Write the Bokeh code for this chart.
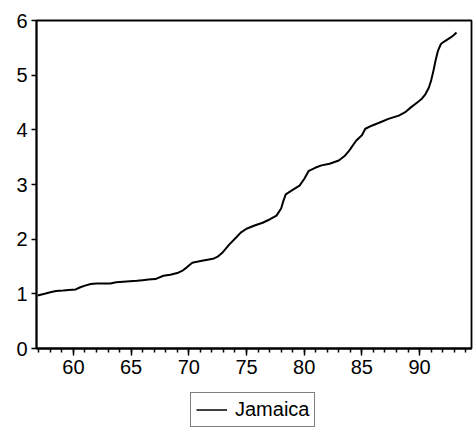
from bokeh.plotting import figure
from bokeh.layouts import column
from bokeh.models import Range1d, SingleIntervalTicker, FixedTicker, Legend, LegendItem
from bokeh.embed import file_html
from bokeh.resources import INLINE

# Jamaica series (x = two-digit year)
years = [56.9, 57.5, 58.0, 58.5, 59.1, 59.6, 60.2, 60.6, 61.0, 61.5, 62.0, 62.5,
         63.2, 63.7, 64.3, 64.9, 65.5, 66.0, 66.5, 67.1, 67.8, 68.4, 69.0, 69.5,
         69.8, 70.3, 70.8, 71.5, 72.1, 72.5, 72.9, 73.5, 74.1, 74.5, 75.0, 75.7,
         76.4, 77.0, 77.6, 78.0, 78.2, 78.4, 79.0, 79.6, 80.0, 80.4, 81.0, 81.5,
         82.2, 83.0, 83.5, 83.9, 84.5, 85.0, 85.3, 85.9, 86.5, 87.3, 88.2, 88.8,
         89.3, 89.8, 90.2, 90.5, 90.8, 91.0, 91.2, 91.4, 91.6, 91.85, 92.1, 92.4,
         92.7, 93.0, 93.2]
jamaica = [0.97, 1.00, 1.03, 1.05, 1.06, 1.07, 1.08, 1.12, 1.15, 1.18, 1.19, 1.19,
           1.19, 1.21, 1.22, 1.23, 1.24, 1.25, 1.26, 1.27, 1.33, 1.35, 1.38, 1.43,
           1.48, 1.57, 1.59, 1.62, 1.64, 1.68, 1.75, 1.90, 2.03, 2.12, 2.19, 2.25,
           2.30, 2.36, 2.43, 2.56, 2.70, 2.82, 2.90, 2.98, 3.10, 3.25, 3.31, 3.35,
           3.38, 3.44, 3.52, 3.62, 3.80, 3.90, 4.02, 4.08, 4.13, 4.20, 4.26, 4.33,
           4.42, 4.50, 4.57, 4.65, 4.77, 4.90, 5.08, 5.28, 5.45, 5.57, 5.61, 5.65,
           5.69, 5.74, 5.78]
x_ticks = [60, 65, 70, 75, 80, 85, 90]
y_ticks = [0, 1, 2, 3, 4, 5, 6]
series_name = "Jamaica"

FONT = "Liberation Sans"

p = figure(width=473, height=385, output_backend="svg", toolbar_location=None,
           x_range=Range1d(56.8, 94.5), y_range=Range1d(0, 6),
           min_border_left=36, min_border_right=2, min_border_top=20,
           min_border_bottom=37)

r = p.line(years, jamaica, line_color="black", line_width=2)

p.xgrid.visible = False
p.ygrid.visible = False
p.outline_line_color = "black"
p.outline_line_width = 1.8
p.background_fill_color = "white"
p.border_fill_color = "white"

p.xaxis.ticker = SingleIntervalTicker(interval=5, num_minor_ticks=5)
p.yaxis.ticker = FixedTicker(ticks=y_ticks)
for ax in (p.xaxis, p.yaxis):
    ax.axis_line_color = "black"
    ax.axis_line_width = 1.8
    ax.major_tick_line_color = "black"
    ax.major_tick_line_width = 1.5
    ax.minor_tick_line_color = "black"
    ax.minor_tick_line_width = 1.5
    ax.major_tick_in = 0
    ax.minor_tick_in = 0
    ax.major_label_text_font = FONT
    ax.major_label_text_font_size = "20px"
    ax.major_label_text_color = "black"

p.xaxis.major_tick_out = 7
p.xaxis.minor_tick_out = 4
p.xaxis.major_label_standoff = 4
p.yaxis.major_tick_out = 5
p.yaxis.minor_tick_line_color = None
p.yaxis.major_label_standoff = 4

# legend strip below the chart (its line lies outside this strip's ranges,
# so only the legend sample is seen)
q = figure(width=473, height=45, output_backend="svg", toolbar_location=None,
           x_range=Range1d(0, 1), y_range=Range1d(0, 1),
           min_border_left=0, min_border_right=0, min_border_top=0,
           min_border_bottom=0)
q.axis.visible = False
q.xgrid.visible = False
q.ygrid.visible = False
q.outline_line_color = None
q.background_fill_color = "white"
q.border_fill_color = "white"
r2 = q.line(years, jamaica, line_color="black", line_width=1.5)

legend = Legend(items=[LegendItem(label=series_name, renderers=[r2])],
                location=(154, 3), orientation="horizontal",
                label_text_font=FONT, label_text_font_size="20px",
                label_text_color="black", label_standoff=8,
                glyph_width=31, glyph_height=19, label_height=19,
                padding=5, margin=0, spacing=0,
                border_line_color="black", border_line_width=1.8,
                background_fill_color="white", background_fill_alpha=1)
q.add_layout(legend, "center")

layout = column(p, q, spacing=0)
open("out.html", "w").write(file_html(layout, INLINE))
